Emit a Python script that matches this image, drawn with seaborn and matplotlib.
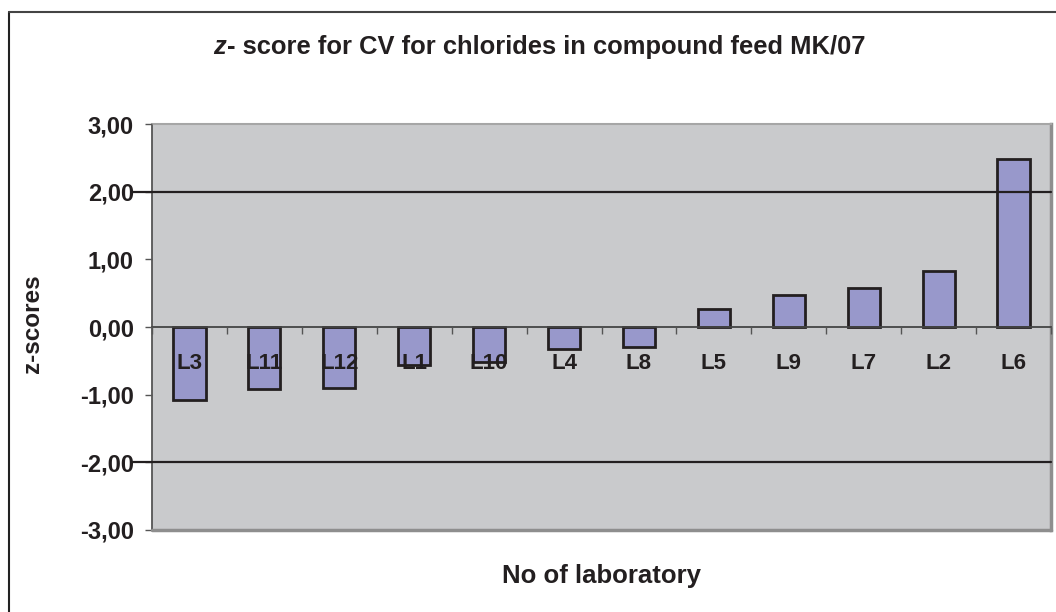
import matplotlib
matplotlib.use("Agg")
import matplotlib.pyplot as plt
import seaborn as sns
import numpy as np
from matplotlib.lines import Line2D
from matplotlib.ticker import FixedLocator, FuncFormatter

# ---- data ----
labs = ["L3", "L11", "L12", "L1", "L10", "L4", "L8", "L5", "L9", "L7", "L2", "L6"]
zscores = [-1.08, -0.91, -0.90, -0.56, -0.51, -0.33, -0.30, 0.26, 0.47, 0.58, 0.83, 2.48]
yticks = [3, 2, 1, 0, -1, -2, -3]
limit_lines = [2, -2]

sns.set_theme(style="white")
plt.rcParams["font.family"] = ["Liberation Sans", "DejaVu Sans"]
plt.rcParams["font.weight"] = "bold"

fig = plt.figure(figsize=(10.56, 6.12), dpi=100)
ax = fig.add_axes([152 / 1056, 1 - 530 / 612, 899 / 1056, 406 / 612])
ax.set_facecolor("#C9CACC")
ax.set_axisbelow(False)

sns.barplot(x=labs, y=zscores, color="#9898CB", saturation=1, edgecolor="#231F20",
            linewidth=2, width=0.43, ax=ax, zorder=1)

ax.set_ylim(-3, 3)
ax.set_xlim(-0.5, len(labs) - 0.5)

# spines
ax.spines["bottom"].set_position(("data", 0))
ax.spines["bottom"].set_color("#444444")
ax.spines["bottom"].set_linewidth(1.3)
ax.spines["left"].set_color("#555555")
ax.spines["left"].set_linewidth(1.3)
ax.spines["top"].set_color("#A6A6A6")
ax.spines["top"].set_linewidth(1.5)
ax.spines["right"].set_color("#8E8E8E")
ax.spines["right"].set_linewidth(2.5)
ax.axhline(-3, color="#8E8E8E", lw=2.5, clip_on=False, zorder=3)

# reference lines at +/-2
for v in limit_lines:
    ax.axhline(v, xmin=-(152 - 133) / 899, xmax=1, color="#231F20", lw=1.6,
               clip_on=False, zorder=3)

# y axis
ax.yaxis.set_major_locator(FixedLocator(yticks))
ax.yaxis.set_major_formatter(FuncFormatter(lambda v, p: f"{v:.2f}".replace(".", ",")))
ax.tick_params(axis="y", which="major", left=True, direction="out", length=5, width=1,
               color="#555555", pad=8, labelsize=17, labelcolor="#231F20")
for t in ax.get_yticklabels():
    t.set_fontweight("bold")

# x axis
ax.set_xticks(np.arange(len(labs)))
ax.set_xticklabels(labs)
ax.xaxis.set_minor_locator(FixedLocator(np.arange(-0.5, len(labs), 1)))
ax.tick_params(axis="x", which="major", bottom=True, length=0, pad=19, labelsize=16,
               labelcolor="#231F20")
ax.tick_params(axis="x", which="minor", bottom=True, direction="out", length=5, width=1,
               color="#555555")
for t in ax.get_xticklabels():
    t.set_fontweight("bold")

# axis labels
ax.set_xlabel("No of laboratory", fontsize=18.5, fontweight="bold", color="#231F20",
              va="center", ha="center")
ax.xaxis.set_label_coords((602 - 152) / 899, (530 - 576) / 406)
ax.set_ylabel("z-scores", fontsize=17.5, fontweight="bold", color="#231F20",
              va="center", ha="center")
ax.yaxis.set_label_coords((33 - 152) / 899, (530 - 324) / 406)

# title
fig.text(213 / 1056, 1 - 47 / 612, "z", fontsize=18.4, fontweight="bold", style="italic",
         ha="left", va="center", color="#231F20")
fig.text(227 / 1056, 1 - 47 / 612, "- score for CV for chlorides in compound feed MK/07",
         fontsize=18.4, fontweight="bold", ha="left", va="center", color="#231F20")

# outer frame
fig.add_artist(Line2D([9 / 1056, 9 / 1056], [0, 1 - 12 / 612], transform=fig.transFigure,
                      color="#222222", lw=1.5))
fig.add_artist(Line2D([9 / 1056, 1], [1 - 12 / 612, 1 - 12 / 612], transform=fig.transFigure,
                      color="#444444", lw=1.5))

fig.savefig("out.png", dpi=100)
